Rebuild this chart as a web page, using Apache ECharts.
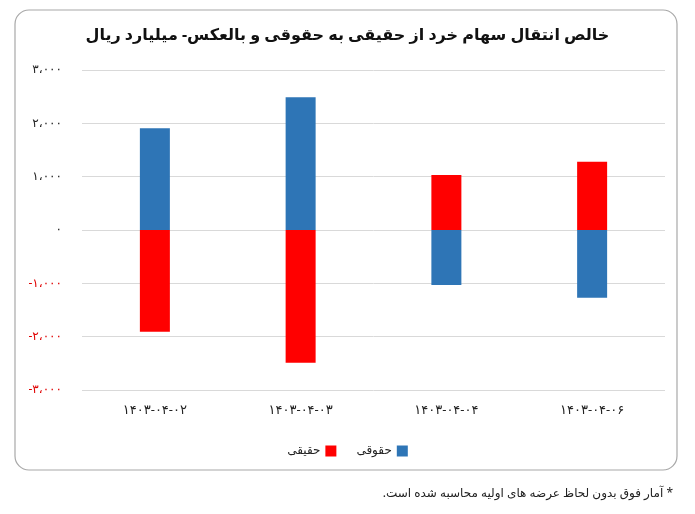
<!DOCTYPE html>
<html><head><meta charset="utf-8">
<script src="https://cdn.jsdelivr.net/npm/echarts@6/dist/echarts.min.js"></script>
<style>html,body{margin:0;background:#fff}#c{width:695px;height:514px}</style>
</head><body><div id="c"></div>
<script>
var categories = ['1403-04-02', '1403-04-03', '1403-04-04', '1403-04-06']
var haghighi = [-1910, -2490, 1030, 1280]
var hoghoghi = [1910, 2490, -1030, -1270]
var yTicks = { min: -3000, max: 3000, interval: 1000 }

var font = '"Noto Sans", "DejaVu Sans", sans-serif'
// ارقام فارسی
function fa(s) {
  return String(s).replace(/\d/g, function (d) { return '۰۱۲۳۴۵۶۷۸۹'[d] })
}
function faNum(v) {
  var a = Math.abs(v)
  var s = a >= 1000 ? Math.floor(a / 1000) + '،' + String(a % 1000).padStart(3, '0') : String(a)
  return (v < 0 ? '-' : '') + fa(s)
}

var myChart = echarts.init(document.getElementById('c'))
var option = {
  animation: false,
  textStyle: { fontFamily: font },
  title: {
    text: 'خالص انتقال سهام خرد از حقیقی به حقوقی و بالعکس- میلیارد ریال',
    left: 'center',
    top: 22,
    textStyle: { fontSize: 16, fontWeight: 'bold', color: '#111', fontFamily: font }
  },
  graphic: [
    {
      type: 'rect',
      shape: { x: 15, y: 10, width: 662, height: 460, r: 14 },
      style: { fill: 'none', stroke: '#a8a8a8', lineWidth: 1.2 },
      z: -1
    },
    {
      type: 'text',
      right: 22,
      top: 488,
      style: { text: '\u200fآمار فوق بدون لحاظ عرضه های اولیه محاسبه شده است.\u200f *', fontSize: 12, fill: '#222', fontFamily: font }
    }
  ],
  legend: {
    top: 440,
    left: 'center',
    align: 'right',
    icon: 'rect',
    itemWidth: 11,
    itemHeight: 11,
    itemGap: 20,
    data: ['حقیقی', 'حقوقی'],
    textStyle: { fontSize: 12, color: '#222' }
  },
  grid: { left: 82, right: 30, top: 70, bottom: 124 },
  xAxis: {
    type: 'category',
    data: categories,
    axisLine: { show: false },
    axisTick: { show: false },
    axisLabel: {
      margin: 14,
      fontSize: 13,
      color: '#222',
      formatter: function (v) { return '\u200e' + fa(v) }
    }
  },
  yAxis: {
    type: 'value',
    min: yTicks.min,
    max: yTicks.max,
    interval: yTicks.interval,
    axisLine: { show: false },
    axisTick: { show: false },
    axisLabel: {
      margin: 20,
      fontSize: 12,
      color: function (v) { return v < 0 ? '#e00000' : '#222' },
      formatter: function (v) { return faNum(v) }
    },
    splitLine: { lineStyle: { color: '#d9d9d9' } }
  },
  series: [
    {
      name: 'حقیقی',
      type: 'bar',
      stack: 'a',
      barWidth: 30,
      itemStyle: { color: '#ff0000' },
      data: haghighi
    },
    {
      name: 'حقوقی',
      type: 'bar',
      stack: 'a',
      barWidth: 30,
      itemStyle: { color: '#2e75b6' },
      data: hoghoghi
    }
  ]
}
myChart.setOption(option)
</script></body></html>
